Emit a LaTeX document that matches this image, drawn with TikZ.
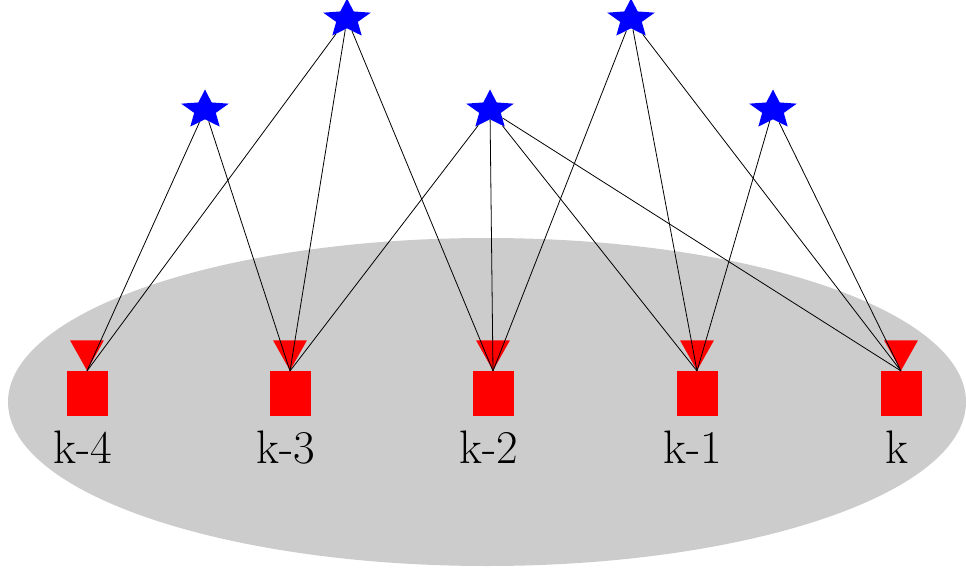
\documentclass[tikz,border=0pt]{standalone}
\usepackage{fontspec}
\usetikzlibrary{shapes.geometric,backgrounds}
\definecolor{plane}{HTML}{CCCCCC}
\tikzset{
  source/.style={star, star points=5, star point ratio=2.2, fill=blue, draw=none,
    minimum size=41pt, inner sep=0pt, xscale=1.22, transform shape},
  antenna/.style={regular polygon, regular polygon sides=3, shape border rotate=180,
    fill=red, draw=none, minimum size=39pt, inner sep=0pt, yscale=1.03,
    transform shape, anchor=corner 1},
  slot/.style={rectangle, fill=red, draw=none, minimum width=41pt, minimum height=45pt,
    inner sep=0pt, anchor=north},
  tag/.style={font=\fontsize{47}{50}\selectfont, anchor=base, inner sep=0pt},
  link/.style={draw=black, line width=0.8pt}
}
\begin{document}
\begin{tikzpicture}[x=1pt, y=-1pt]
  \useasboundingbox (0,0) rectangle (966,572);
  % grey plane holding the time slots
  \fill[plane] (487,402) ellipse [x radius=479, y radius=164];

  % time slots: antenna marker on top of a square, label below
  \foreach \n/\x/\lab in {a/87/k-4, b/290/k-3, c/493/k-2, d/697/k-1, e/901/k} {
    \coordinate (p\n) at (\x,371);
    \node[antenna] (t\n) at (p\n) {};
    \node[slot] (q\n) at (p\n) {};
    \node[tag] (l\n) at (\x-4,463) {\lab};
  }

  % sources
  \node[source] (s1) at (205,110) {};
  \node[source] (s2) at (347,19) {};
  \node[source] (s3) at (490,110) {};
  \node[source] (s4) at (631,19) {};
  \node[source] (s5) at (773,110) {};

  % links from each source to the slots it reaches
  \foreach \s/\targets in {s1/{a,b}, s2/{a,b,c}, s3/{b,c,d,e}, s4/{c,d,e}, s5/{d,e}} {
    \foreach \t in \targets {
      \draw[link] (\s) -- (p\t);
    }
  }
\end{tikzpicture}
\end{document}
